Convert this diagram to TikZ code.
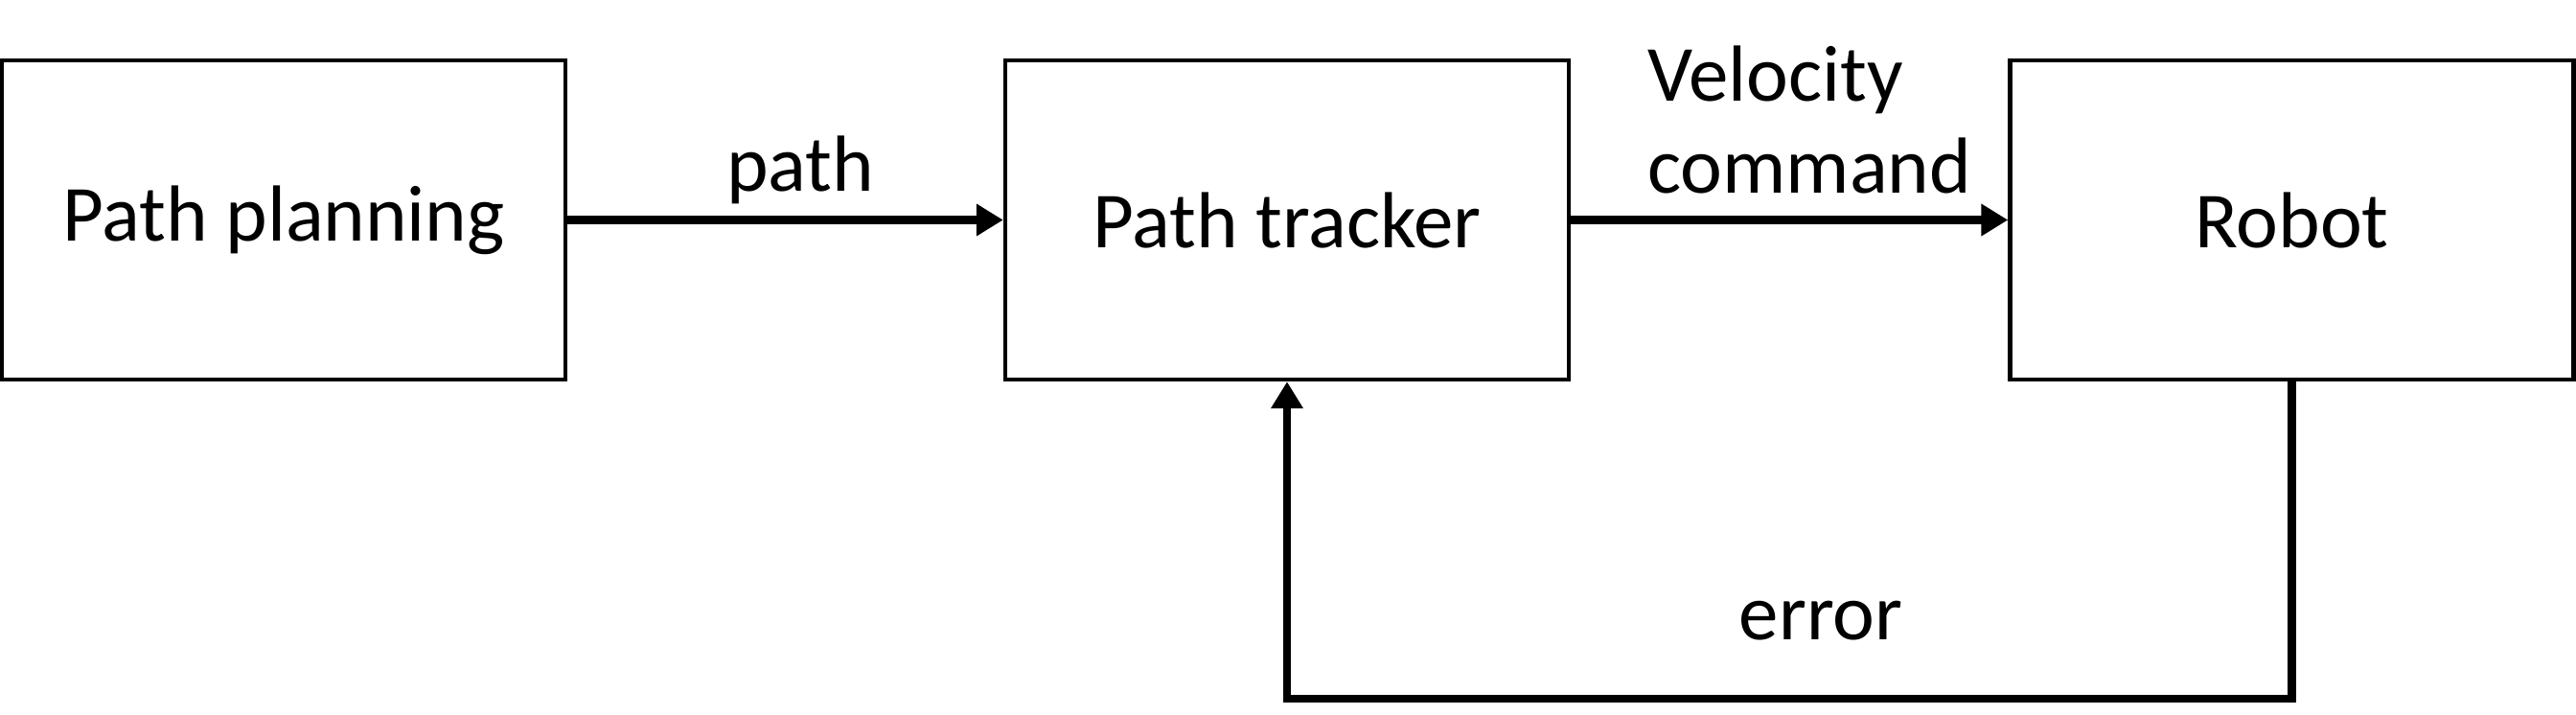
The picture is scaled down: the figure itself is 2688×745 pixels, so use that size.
\documentclass[tikz,border=0pt]{standalone}
\usepackage{fontspec}
\setmainfont{Carlito}
\usetikzlibrary{arrows.meta}
\begin{document}
\begin{tikzpicture}[x=0.5pt,y=-0.5pt,
  blk/.style={draw=black,line width=2.2pt,minimum width=294pt,minimum height=166.5pt,inner sep=0pt,font=\fontsize{41.5}{48}\selectfont},
  lbl/.style={inner sep=0pt,font=\fontsize{41.5}{48}\selectfont},
  conn/.style={line width=4.2pt,-{Triangle[length=14pt,width=16pt]}}]
\useasboundingbox (0,0) rectangle (2688,745);
\node[blk] (plan) at (296,229.5) {Path planning};
\node[blk] (track) at (1343,229.5) {Path tracker};
\node[blk] (robot) at (2391.5,229.5) {Robot};
\draw[conn] (plan.east) -- (track.west);
\draw[conn] (track.east) -- (robot.west);
\coordinate (low) at (2391.5,729);
\draw[conn] (robot.south) -- (low) -| (track.south);
\node[lbl] (lpath) at (835,177) {path};
\node[lbl,anchor=west,align=left] (lvel) at (1719,125) {Velocity\\command};
\node[lbl] (lerr) at (1900,648) {error};
\end{tikzpicture}
\end{document}
